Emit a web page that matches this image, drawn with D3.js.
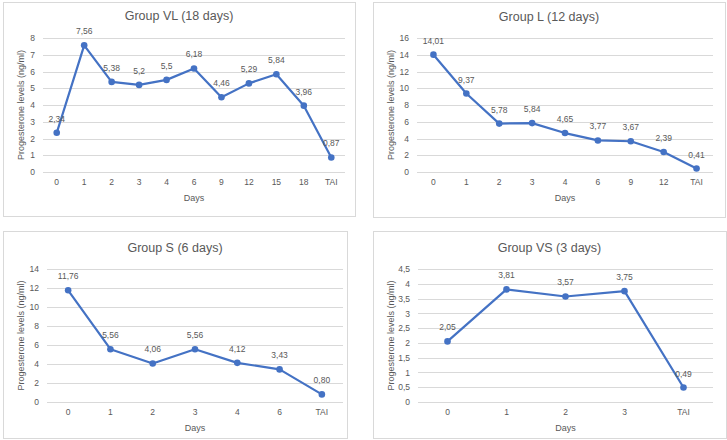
<!DOCTYPE html>
<html>
<head>
<meta charset="utf-8">
<script src="https://cdn.jsdelivr.net/npm/d3@7"></script>
<style>
  html, body { margin: 0; padding: 0; background: #fff; }
  svg { display: block; }
  text { font-family: "Liberation Sans", Arial, sans-serif; fill: #595959; }
</style>
</head>
<body>
<svg id="chart" width="727" height="440"></svg>
<script>
// ---- Data ----
const titles = ["Group VL (18 days)", "Group L (12 days)", "Group S (6 days)", "Group VS (3 days)"];
const daysVL = ["0", "1", "2", "3", "4", "6", "9", "12", "15", "18", "TAI"];
const valuesVL = [2.34, 7.56, 5.38, 5.2, 5.5, 6.18, 4.46, 5.29, 5.84, 3.96, 0.87];
const labelsVL = ["2,34", "7,56", "5,38", "5,2", "5,5", "6,18", "4,46", "5,29", "5,84", "3,96", "0,87"];
const daysL = ["0", "1", "2", "3", "4", "6", "9", "12", "TAI"];
const valuesL = [14.01, 9.37, 5.78, 5.84, 4.65, 3.77, 3.67, 2.39, 0.41];
const labelsL = ["14,01", "9,37", "5,78", "5,84", "4,65", "3,77", "3,67", "2,39", "0,41"];
const daysS = ["0", "1", "2", "3", "4", "6", "TAI"];
const valuesS = [11.76, 5.56, 4.06, 5.56, 4.12, 3.43, 0.80];
const labelsS = ["11,76", "5,56", "4,06", "5,56", "4,12", "3,43", "0,80"];
const daysVS = ["0", "1", "2", "3", "TAI"];
const valuesVS = [2.05, 3.81, 3.57, 3.75, 0.49];
const labelsVS = ["2,05", "3,81", "3,57", "3,75", "0,49"];
const yTicksVL = [0, 1, 2, 3, 4, 5, 6, 7, 8];
const yTicksL = [0, 2, 4, 6, 8, 10, 12, 14, 16];
const yTicksS = [0, 2, 4, 6, 8, 10, 12, 14];
const yTicksVS = [0, 0.5, 1, 1.5, 2, 2.5, 3, 3.5, 4, 4.5];
const xTitle = "Days";
const yTitle = "Progesterone levels (ng/ml)";

// ---- Layout ----
const layouts = [
  { box: [3, 2, 355, 216], plot: [43, 38, 345, 172], titleY: 17, yTitleX: 22 },
  { box: [373, 2, 725, 217], plot: [417, 38, 713, 172], titleY: 18, yTitleX: 392 },
  { box: [3, 231, 347, 438], plot: [47, 269, 343, 402], titleY: 249, yTitleX: 22 },
  { box: [373, 231, 726, 438], plot: [418, 269, 713, 402], titleY: 249, yTitleX: 392 }
];
const panels = [
  { days: daysVL, values: valuesVL, labels: labelsVL, ticks: yTicksVL },
  { days: daysL, values: valuesL, labels: labelsL, ticks: yTicksL },
  { days: daysS, values: valuesS, labels: labelsS, ticks: yTicksS },
  { days: daysVS, values: valuesVS, labels: labelsVS, ticks: yTicksVS }
];
const blue = "#4472C4";
const fmt = v => String(v).replace(".", ",");

const svg = d3.select("#chart");

panels.forEach((p, i) => {
  const L = layouts[i];
  const [bx0, by0, bx1, by1] = L.box;
  const [px0, py0, px1, py1] = L.plot;
  const g = svg.append("g");

  g.append("rect")
    .attr("x", bx0 + 0.5).attr("y", by0 + 0.5)
    .attr("width", bx1 - bx0).attr("height", by1 - by0)
    .attr("fill", "#fff").attr("stroke", "#d9d9d9").attr("stroke-width", 1);

  const x = d3.scaleBand().domain(p.days).range([px0, px1]);
  const y = d3.scaleLinear().domain([0, d3.max(p.ticks)]).range([py1, py0]);

  // gridlines
  g.selectAll(".grid").data(p.ticks).join("line")
    .attr("x1", px0).attr("x2", px1)
    .attr("y1", d => Math.round(y(d)) + 0.5).attr("y2", d => Math.round(y(d)) + 0.5)
    .attr("stroke", "#d9d9d9").attr("stroke-width", 1);

  // y axis labels
  const yAxis = d3.axisLeft(y).tickValues(p.ticks).tickSize(0).tickPadding(8).tickFormat(fmt);
  const ya = g.append("g").attr("transform", `translate(${px0},0)`).call(yAxis);
  ya.select(".domain").remove();
  ya.selectAll("text").style("font-size", "8.5px").attr("fill", "#666")
    .style("font-family", '"Liberation Sans", Arial, sans-serif');

  // x axis labels
  const xAxis = d3.axisBottom(x).tickSize(0).tickPadding(7);
  const xa = g.append("g").attr("transform", `translate(0,${py1})`).call(xAxis);
  xa.select(".domain").remove();
  xa.selectAll("text").style("font-size", "8.5px").attr("fill", "#666")
    .style("font-family", '"Liberation Sans", Arial, sans-serif');

  // titles
  g.append("text").attr("x", (bx0 + bx1) / 2).attr("y", L.titleY)
    .attr("text-anchor", "middle").attr("dominant-baseline", "middle")
    .style("font-size", "12.5px").text(titles[i]);
  g.append("text").attr("x", (px0 + px1) / 2).attr("y", py1 + 27)
    .attr("text-anchor", "middle").attr("dominant-baseline", "middle")
    .style("font-size", "9px").text(xTitle);
  g.append("text")
    .attr("transform", `translate(${L.yTitleX},${(py0 + py1) / 2}) rotate(-90)`)
    .attr("text-anchor", "middle").attr("dominant-baseline", "middle")
    .style("font-size", "9px").text(yTitle);

  const cx = d => x(d) + x.bandwidth() / 2;
  const line = d3.line().x((d, j) => cx(p.days[j])).y(d => y(d));
  g.append("path").datum(p.values).attr("d", line)
    .attr("fill", "none").attr("stroke", blue).attr("stroke-width", 2.2)
    .attr("stroke-linejoin", "round");
  g.selectAll(".pt").data(p.values).join("circle")
    .attr("cx", (d, j) => cx(p.days[j])).attr("cy", d => y(d))
    .attr("r", 3.3).attr("fill", blue);
  g.selectAll(".lbl").data(p.values).join("text")
    .attr("x", (d, j) => cx(p.days[j])).attr("y", d => y(d) - 11)
    .attr("text-anchor", "middle")
    .style("font-size", "8.5px")
    .text((d, j) => p.labels[j]);
});
</script>
</body>
</html>
